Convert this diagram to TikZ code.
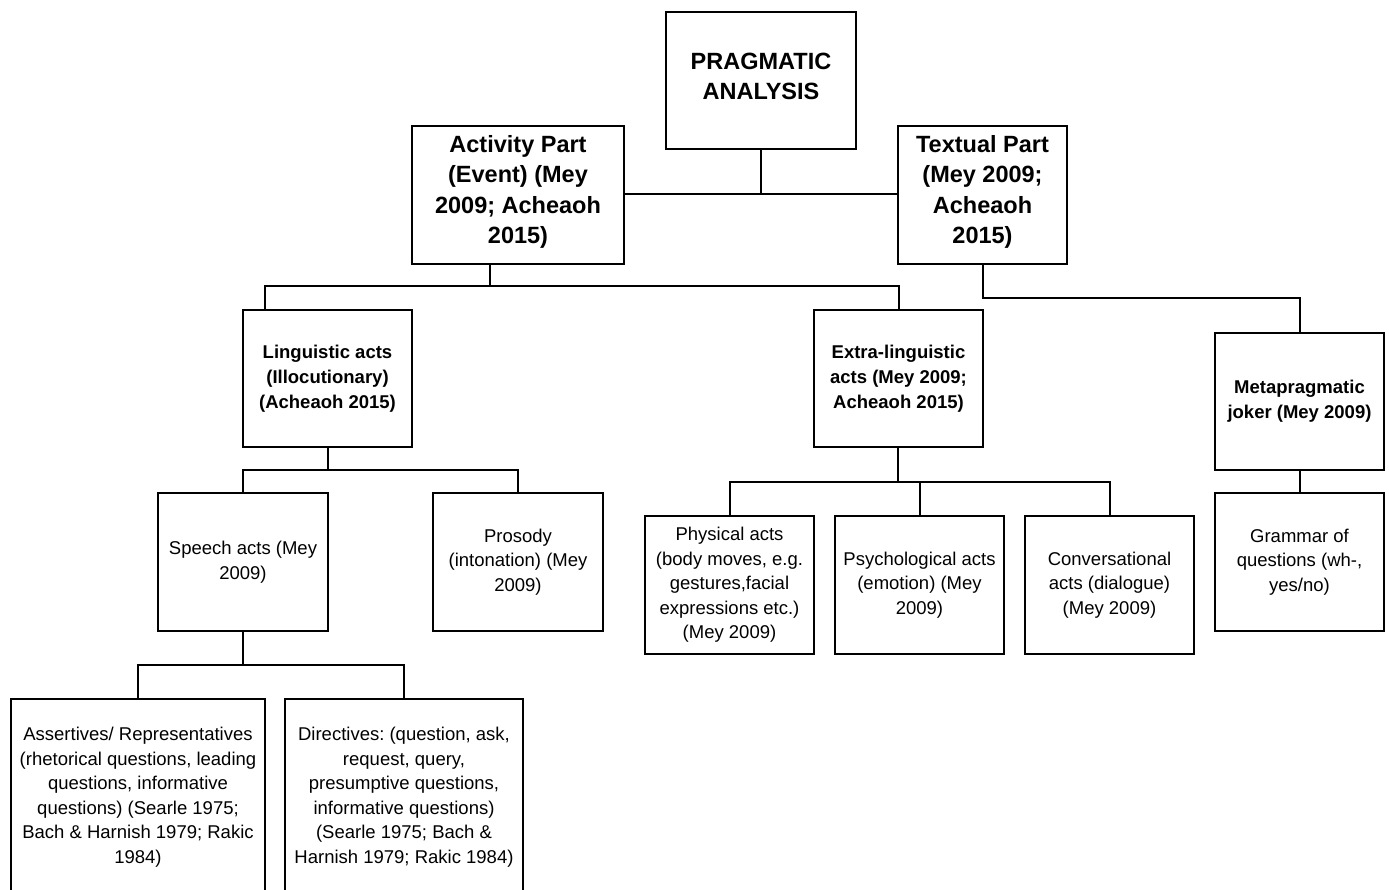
\documentclass[tikz,border=0pt]{standalone}
\usepackage{fontspec}
\setmainfont{Liberation Sans}
\frenchspacing
\begin{document}
\begin{tikzpicture}[x=1pt,y=-1pt,
  box/.style={draw=black, line width=2pt, fill=white, align=center, inner sep=0pt, outer sep=0pt},
  bigt/.style={font=\fontsize{23.5}{30.5}\selectfont\bfseries, align=center, inner sep=0pt},
  midt/.style={font=\fontsize{18.5}{24.8}\selectfont\bfseries},
  smallt/.style={font=\fontsize{18.5}{24.5}\selectfont},
  conn/.style={draw=black, line width=2pt}]
\useasboundingbox (0,0) rectangle (1389,889);
% level 0
\node[box,minimum width=190pt,minimum height=137pt] (prag) at (761,80.5) {};
\node[bigt] (pragt) at (761,76.5) {PRAGMATIC\\ANALYSIS};
% level 1
\node[box,minimum width=212pt,minimum height=138pt] (act) at (518,195) {};
\node[bigt] (actt) at (518,192) {Activity Part\\(Event) (Mey\\2009; Acheaoh\\2015)};
\node[box,minimum width=169pt,minimum height=138pt] (tex) at (982.5,195) {};
\node[bigt] (text) at (982.5,192) {Textual Part\\(Mey 2009;\\Acheaoh\\2015)};
% level 2
\node[box,midt,minimum width=169pt,minimum height=137pt] (ling) at (327.5,378.5) {Linguistic acts\\(Illocutionary)\\(Acheaoh 2015)};
\node[box,midt,minimum width=169pt,minimum height=137pt] (extra) at (898.5,378.5) {Extra-linguistic\\acts (Mey 2009;\\Acheaoh 2015)};
\node[box,midt,minimum width=169pt,minimum height=137pt] (meta) at (1299.5,401.5) {Metapragmatic\\joker (Mey 2009)};
% level 3
\node[box,smallt,minimum width=170pt,minimum height=138pt] (speech) at (243,562) {Speech acts (Mey\\2009)};
\node[box,smallt,minimum width=170pt,minimum height=138pt] (pros) at (518,562) {Prosody\\(intonation) (Mey\\2009)};
\node[box,smallt,minimum width=169pt,minimum height=138pt] (phys) at (729.5,585) {Physical acts\\(body moves, e.g.\\gestures,facial\\expressions etc.)\\(Mey 2009)};
\node[box,smallt,minimum width=169pt,minimum height=138pt] (psych) at (919.5,585) {Psychological acts\\(emotion) (Mey\\2009)};
\node[box,smallt,minimum width=169pt,minimum height=138pt] (conv) at (1109.5,585) {Conversational\\acts (dialogue)\\(Mey 2009)};
\node[box,smallt,minimum width=169pt,minimum height=138pt] (gram) at (1299.5,562) {Grammar of\\questions (wh-,\\yes/no)};
% level 4
\node[box,smallt,minimum width=254pt,minimum height=196pt] (assert) at (138,797) {Assertives/ Representatives\\(rhetorical questions, leading\\questions, informative\\questions) (Searle 1975;\\Bach \& Harnish 1979; Rakic\\1984)};
\node[box,smallt,minimum width=238pt,minimum height=196pt] (dir) at (404,797) {Directives: (question, ask,\\request, query,\\presumptive questions,\\informative questions)\\(Searle 1975; Bach \&\\Harnish 1979; Rakic 1984)};
% junctions
\coordinate (j0) at (761,194);
\coordinate (j1) at (490,286);
\coordinate (lingin) at ([xshift=22pt]ling.north west);
\coordinate (j2) at (983,298);
\coordinate (j3) at (328,470);
\coordinate (j4) at (898,482);
\coordinate (j5) at (243,665);
% connectors
\draw[conn] (act.east |- j0) -- (tex.west |- j0);
\draw[conn] (prag.south) -- (j0);
\draw[conn] (act.south -| j1) -- (j1) -| (lingin);
\draw[conn] (j1) -| (extra.north);
\draw[conn] (tex.south -| j2) -- (j2) -| (meta.north);
\draw[conn] (ling.south -| j3) -- (j3) -| (speech.north);
\draw[conn] (j3) -| (pros.north);
\draw[conn] (extra.south -| j4) -- (j4) -| (phys.north);
\draw[conn] (j4) -| (conv.north);
\draw[conn] (j4 -| psych.north) -- (psych.north);
\draw[conn] (meta.south) -- (gram.north);
\draw[conn] (speech.south -| j5) -- (j5) -| (assert.north);
\draw[conn] (j5) -| (dir.north);
\end{tikzpicture}
\end{document}
